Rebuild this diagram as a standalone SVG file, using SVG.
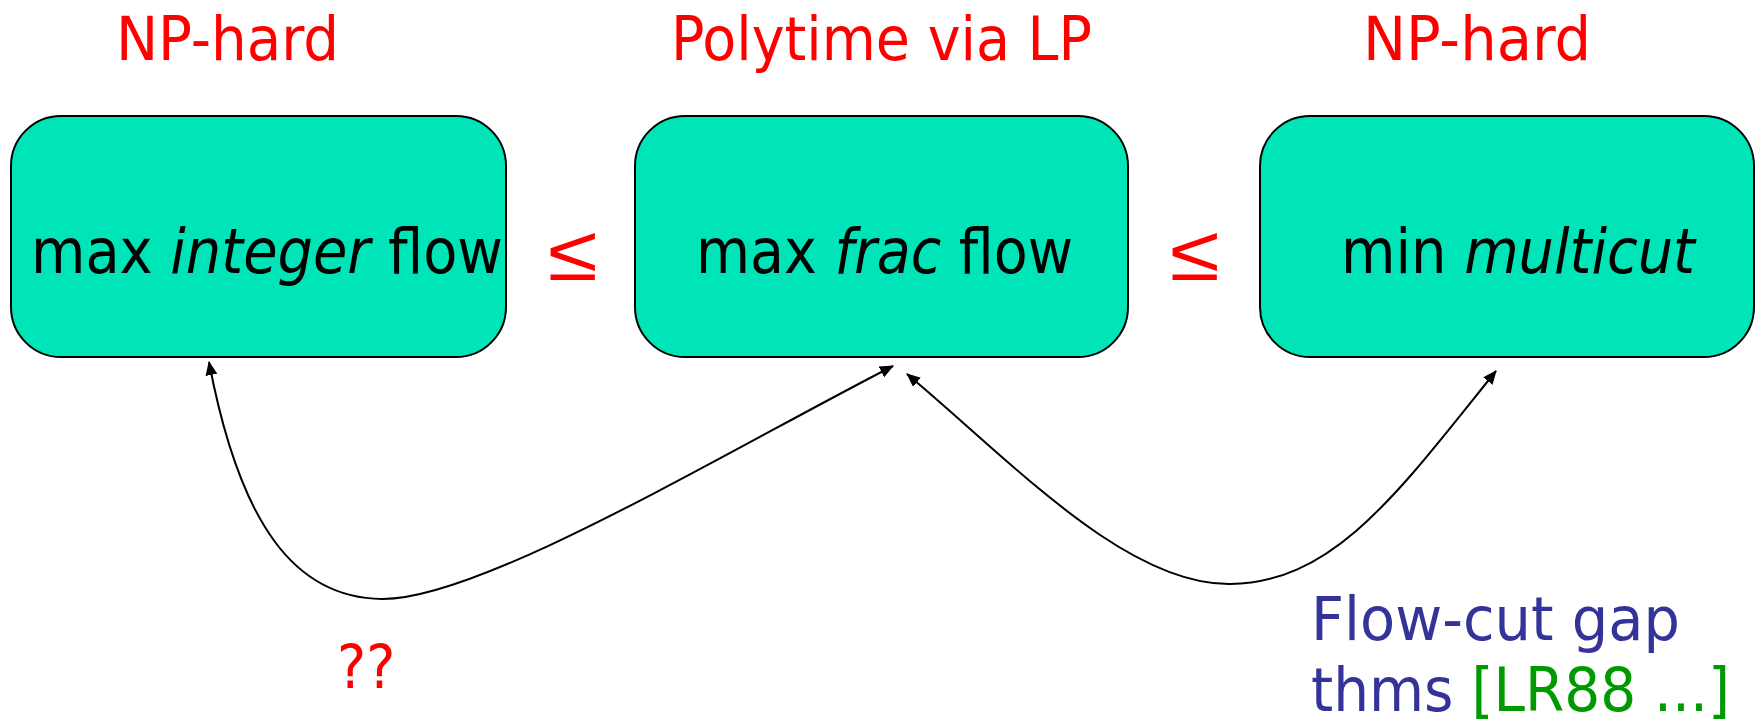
<svg xmlns="http://www.w3.org/2000/svg" width="1762" height="722" viewBox="0 0 1762 722">
<style>
.box{fill:#00E5B8;stroke:#000;stroke-width:2}
.t{font-family:"DejaVu Sans Condensed","DejaVu Sans",sans-serif}
.lbl{font-size:62px;fill:#000}
.red{fill:#FF0000;font-size:61px}
.leq{font-family:"Liberation Sans",sans-serif;fill:#FF0000;font-size:78px}
.conn{fill:none;stroke:#000;stroke-width:2;marker-start:url(#ah);marker-end:url(#ah)}
</style>
<defs>
<marker id="ah" viewBox="0 0 14 12" refX="13" refY="6" markerWidth="14" markerHeight="12" markerUnits="userSpaceOnUse" orient="auto-start-reverse">
<path d="M0,0 L14,6 L0,12 z" fill="#000"/>
</marker>
</defs>
<rect width="1762" height="722" fill="#fff"/>
<g id="title-left"><text class="t red" x="116" y="60" textLength="223" lengthAdjust="spacingAndGlyphs">NP-hard</text></g>
<g id="title-mid"><text class="t red" x="671" y="60" textLength="421" lengthAdjust="spacingAndGlyphs">Polytime via LP</text></g>
<g id="title-right"><text class="t red" x="1363" y="60" textLength="228" lengthAdjust="spacingAndGlyphs">NP-hard</text></g>
<g id="node-int">
<rect class="box" x="11" y="116" width="495" height="241" rx="50"/>
<text class="t lbl" x="31" y="273" textLength="472" lengthAdjust="spacingAndGlyphs">max <tspan font-style="italic">integer</tspan> flow</text>
</g>
<g id="node-frac">
<rect class="box" x="635" y="116" width="493" height="241" rx="50"/>
<text class="t lbl" x="696" y="273" textLength="377" lengthAdjust="spacingAndGlyphs">max <tspan font-style="italic">frac</tspan> flow</text>
</g>
<g id="node-cut">
<rect class="box" x="1260" y="116" width="494" height="241" rx="50"/>
<text class="t lbl" x="1341" y="273" textLength="354" lengthAdjust="spacingAndGlyphs">min <tspan font-style="italic">multicut</tspan></text>
</g>
<g id="leq-1"><text class="leq" x="548" y="280" textLength="50" lengthAdjust="spacingAndGlyphs">≤</text></g>
<g id="leq-2"><text class="leq" x="1170" y="280" textLength="50" lengthAdjust="spacingAndGlyphs">≤</text></g>
<g id="connectors">
<path class="conn" d="M893,366 C720,455 480,600 382,599 C295,598 240,525 209,362"/>
<path class="conn" d="M907,374 C1010,460 1125,585 1230,584 C1335,583 1400,490 1496,371"/>
</g>
<g id="label-qq"><text class="t red" x="337" y="688" font-size="60">??</text></g>
<g id="label-gap">
<text class="t" x="1311" y="640" font-size="60" fill="#333399" textLength="369" lengthAdjust="spacingAndGlyphs">Flow-cut gap</text>
<text class="t" x="1311" y="711" font-size="60" fill="#333399" textLength="419" lengthAdjust="spacingAndGlyphs">thms <tspan fill="#009900">[LR88 ...]</tspan></text>
</g>
</svg>
